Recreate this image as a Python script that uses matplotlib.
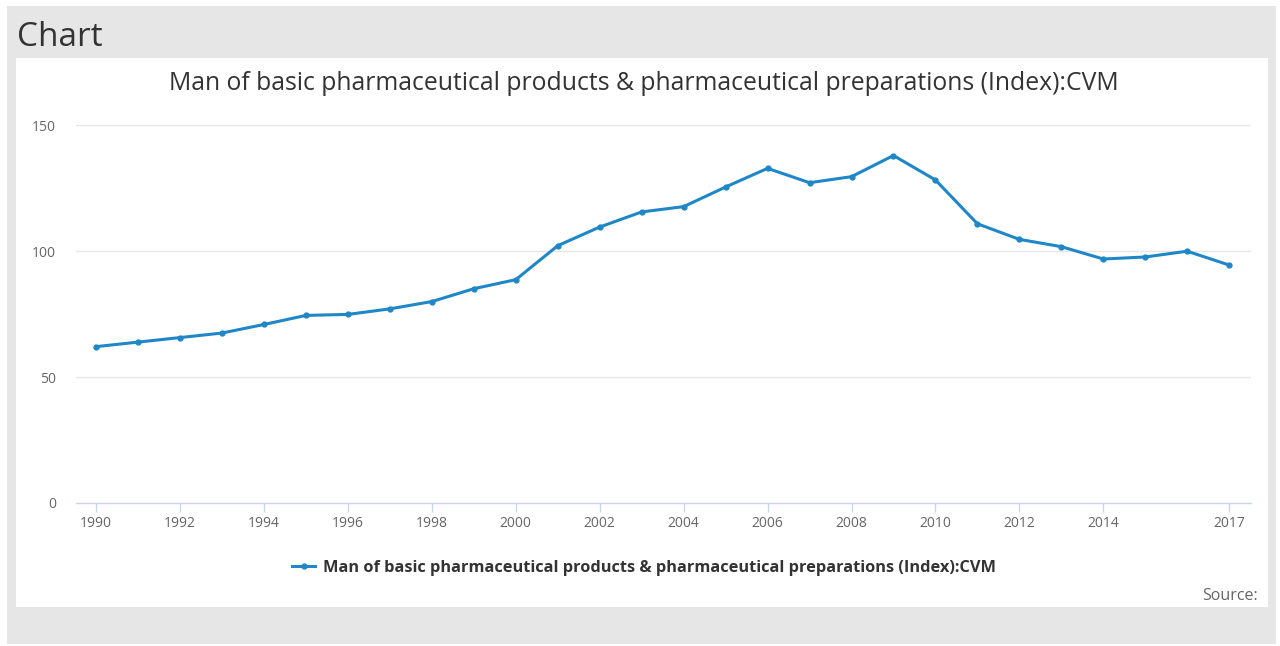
import matplotlib
matplotlib.use("Agg")
import matplotlib.pyplot as plt
from matplotlib.patches import Rectangle

plt.rcParams['font.family'] = ['Open Sans', 'DejaVu Sans']

years = list(range(1990, 2018))
index_values = [62.1, 63.9, 65.7, 67.5, 70.9, 74.5, 74.9, 77.1, 80.0, 85.1,
                88.7, 102.2, 109.6, 115.6, 117.7, 125.5, 132.9, 127.2, 129.6, 138.0,
                128.3, 110.9, 104.7, 101.8, 96.9, 97.7, 100.0, 94.5]
x_ticks = [1990, 1992, 1994, 1996, 1998, 2000, 2002, 2004, 2006, 2008, 2010, 2012, 2014, 2017]
y_ticks = [0, 50, 100, 150]
series_name = "Man of basic pharmaceutical products & pharmaceutical preparations (Index):CVM"

W, H = 1280, 646
fig = plt.figure(figsize=(W / 100, H / 100), dpi=100)
fig.patch.set_facecolor("white")

# grey frame and white chart panel, in pixel units converted to figure fraction
def px_rect(x0, y0, x1, y1, color):
    fig.add_artist(Rectangle((x0 / W, 1 - y1 / H), (x1 - x0) / W, (y1 - y0) / H,
                             transform=fig.transFigure, facecolor=color,
                             edgecolor="none", zorder=-10))

px_rect(7, 6, 1276, 644, "#e6e6e6")
px_rect(16, 58, 1268, 607, "white")

fig.text(17 / W, 1 - 37 / H, "Chart", fontsize=24, color="#333333", va="center", ha="left")

ax = fig.add_axes([76 / W, 1 - 503 / H, (1251 - 76) / W, (503 - 125.3) / H])
ax.set_facecolor("none")
line_color = "#1f87c8"
ax.plot(years, index_values, color=line_color, lw=2.2, marker="o", ms=3.5,
        label=series_name, zorder=3, clip_on=False)

ax.set_xlim(1989.52, 2017.52)
ax.set_ylim(0, 150)
ax.set_xticks(x_ticks)
ax.set_yticks(y_ticks)
ax.grid(axis="y", color="#e6e6e6", lw=1)
ax.set_axisbelow(True)
for s in ["top", "right", "left"]:
    ax.spines[s].set_visible(False)
ax.spines["bottom"].set_color("#ccd6eb")
ax.spines["bottom"].set_linewidth(1)
ax.tick_params(axis="x", length=6.5, color="#ccd6eb", width=1, labelsize=10,
               labelcolor="#666666", pad=3)
ax.tick_params(axis="y", length=0, labelsize=10, labelcolor="#666666", pad=14.5)

fig.text(644 / W, 1 - 83 / H, series_name, fontsize=17.8, color="#333333",
         ha="center", va="center")

ax.legend(loc="center", bbox_to_anchor=(644 / W, 1 - 568 / H),
          bbox_transform=fig.transFigure, frameon=False, handlelength=1.4,
          handletextpad=0.45, prop={"weight": "bold", "size": 11.8},
          labelcolor="#333333")

fig.text(1258 / W, 1 - 596 / H, "Source:", fontsize=11.5, color="#666666",
         ha="right", va="center")

fig.savefig("out.png", dpi=100)
